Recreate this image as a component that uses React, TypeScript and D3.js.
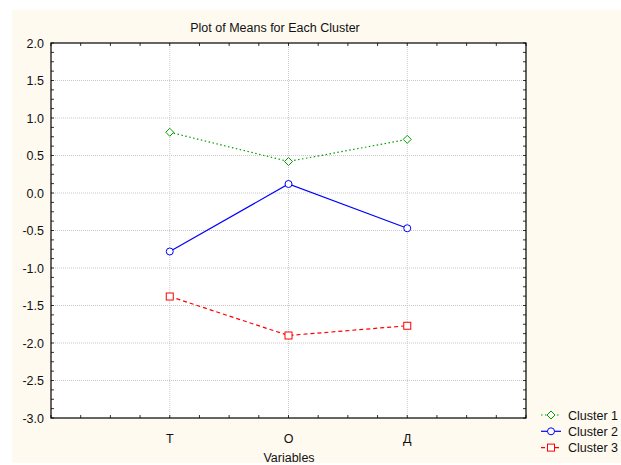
import React from "react";
import * as d3 from "d3";

const categories = ["T", "O", "Д"];
const cluster1 = [0.81, 0.42, 0.715];
const cluster2 = [-0.78, 0.12, -0.47];
const cluster3 = [-1.38, -1.9, -1.77];
const seriesNames = ["Cluster 1", "Cluster 2", "Cluster 3"];
const yTicks = [2.0, 1.5, 1.0, 0.5, 0.0, -0.5, -1.0, -1.5, -2.0, -2.5, -3.0];

const W = 621, H = 465;
const L = 51, R = 526, T = 43, B = 418;

export default function App() {
  const x = d3.scaleLinear().domain([0, 4]).range([L, R]);
  const y = d3.scaleLinear().domain([-3, 2]).range([B, T]);
  const series = [
    { name: seriesNames[0], values: cluster1, color: "#00A000", dash: "1.5,2.5", marker: "diamond" },
    { name: seriesNames[1], values: cluster2, color: "#0000FF", dash: "", marker: "circle" },
    { name: seriesNames[2], values: cluster3, color: "#FF0000", dash: "4,3", marker: "square" },
  ];
  const line = d3.line<number>().x((_, i) => x(i + 1)).y((v) => y(v));
  const minorX = d3.range(0, 4.001, 0.25);
  const minorY = d3.range(-3, 2.001, 0.125);

  const marker = (kind: string, cx: number, cy: number, color: string, key: any) => {
    if (kind === "circle") return <circle key={key} cx={cx} cy={cy} r={3.5} fill="white" stroke={color} strokeWidth={1} />;
    if (kind === "square") return <rect key={key} x={cx - 3.5} y={cy - 3.5} width={7} height={7} fill="white" stroke={color} strokeWidth={1} />;
    return <path key={key} d={`M${cx},${cy - 4}L${cx + 4},${cy}L${cx},${cy + 4}L${cx - 4},${cy}Z`} fill="white" stroke={color} strokeWidth={1} />;
  };

  return (
    <svg width={W} height={H} style={{ position: "fixed", left: 0, top: 0 }} fontFamily="'Liberation Sans', Arial, sans-serif">
      <rect x={0} y={0} width={W} height={H} fill="white" />
      <rect x={12} y={10} width={W - 12} height={453} fill="#FFFAF0" />
      <rect x={L} y={T} width={R - L} height={B - T} fill="white" />
      {/* grid */}
      {yTicks.filter((v) => v > -3 && v < 2).map((v) => (
        <line key={"gy" + v} x1={L} x2={R} y1={y(v)} y2={y(v)} stroke="#c8c8c8" strokeWidth={1} strokeDasharray="1,1" />
      ))}
      {categories.map((c, i) => (
        <line key={"gx" + c} x1={x(i + 1)} x2={x(i + 1)} y1={T} y2={B} stroke="#c8c8c8" strokeWidth={1} strokeDasharray="1,1" />
      ))}
      {/* minor ticks */}
      {minorX.map((v, i) => (
        <g key={"mx" + i}>
          <line x1={x(v)} x2={x(v)} y1={T} y2={T + 3} stroke="#333" />
          <line x1={x(v)} x2={x(v)} y1={B} y2={B - 3} stroke="#333" />
        </g>
      ))}
      {minorY.map((v, i) => (
        <g key={"my" + i}>
          <line x1={L} x2={L + 3} y1={y(v)} y2={y(v)} stroke="#333" />
          <line x1={R} x2={R - 3} y1={y(v)} y2={y(v)} stroke="#333" />
        </g>
      ))}
      <rect x={L} y={T} width={R - L} height={B - T} fill="none" stroke="#000" strokeWidth={1.2} />
      {/* y labels */}
      {yTicks.map((v) => (
        <text key={"yl" + v} x={L - 7} y={y(v) + 4.5} fontSize={12.5} textAnchor="end" fill="#111">{v.toFixed(1)}</text>
      ))}
      {categories.map((c, i) => (
        <text key={"xl" + c} x={x(i + 1)} y={443} fontSize={12.5} textAnchor="middle" fill="#111">{c}</text>
      ))}
      <text x={289} y={462} fontSize={12.5} textAnchor="middle" fill="#111">Variables</text>
      <text x={275} y={32} fontSize={12.5} textAnchor="middle" fill="#111">Plot of Means for Each Cluster</text>
      {/* series */}
      {series.map((s, si) => (
        <g key={"s" + si}>
          <path d={line(s.values) || ""} fill="none" stroke={s.color} strokeWidth={1.2} strokeDasharray={s.dash} />
          {s.values.map((v, i) => marker(s.marker, x(i + 1), y(v), s.color, i))}
        </g>
      ))}
      {/* legend */}
      {series.map((s, si) => {
        const ly = 415 + si * 16.3;
        return (
          <g key={"lg" + si}>
            <line x1={541} x2={561} y1={ly} y2={ly} stroke={s.color} strokeWidth={1.2} strokeDasharray={s.dash} />
            {marker(s.marker, 551, ly, s.color, "m")}
            <text x={568} y={ly + 4.5} fontSize={12.5} fill="#111">{s.name}</text>
          </g>
        );
      })}
    </svg>
  );
}
